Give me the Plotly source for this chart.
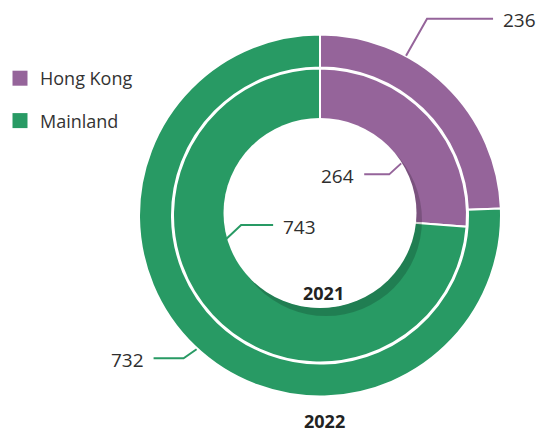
import math
import plotly.graph_objects as go

# ---- data ----
categories = ["Hong Kong", "Mainland"]
values_2021 = [264, 743]
values_2022 = [236, 732]
years = ["2021", "2022"]
colors = ["#95649a", "#289a64"]

# ---- geometry (pixels) ----
W, H = 543, 432
CX, CY = 320, 215.5
R_OUT = 181
R_MID = 147
R_IN = 95
FONT = "Open Sans"
TXT = "#2e2e2e"


def px(x):
    return x / W


def py(y):
    return 1 - y / H


def dom(r):
    return dict(x=[px(CX - r), px(CX + r)], y=[py(CY + r), py(CY - r)])


fig = go.Figure()

fig.add_trace(go.Pie(
    labels=categories, values=values_2022, domain=dom(R_OUT),
    hole=(R_MID + 1) / R_OUT, sort=False, direction="clockwise", rotation=0,
    marker=dict(colors=colors, line=dict(color="white", width=2)),
    textinfo="none", hoverinfo="label+value", showlegend=False,
))
fig.add_trace(go.Pie(
    labels=categories, values=values_2021, domain=dom(R_MID),
    hole=0.62, sort=False, direction="clockwise", rotation=0,
    marker=dict(colors=colors, line=dict(color="white", width=2)),
    textinfo="none", hoverinfo="label+value", showlegend=False,
))

# legend entries
for i, (name, c) in enumerate(zip(categories, colors)):
    fig.add_trace(go.Scatter(
        x=[None], y=[None], mode="markers", name=name, legendgroup=name,
        marker=dict(symbol="square", size=15, color=c),
    ))

shapes = []
# hole shadow + white hole
sx, sy, sr = CX + 6, CY + 4.5, 96
shapes.append(dict(type="circle", xref="paper", yref="paper", layer="above",
                   x0=px(sx - sr), x1=px(sx + sr), y0=py(sy + sr), y1=py(sy - sr),
                   fillcolor="rgba(0,0,0,0.18)", line=dict(width=0)))
hx, hy = CX, CY - 2.5
shapes.append(dict(type="circle", xref="paper", yref="paper", layer="above",
                   x0=px(hx - R_IN - 1.5), x1=px(hx + R_IN + 1.5),
                   y0=py(hy + R_IN), y1=py(hy - R_IN),
                   fillcolor="white", line=dict(width=0)))

annotations = []
# leader label styles: (value, color index, anchor angle, anchor radius, elbow dx, elbow dy, end dx, side)
labels = [
    (values_2022[0], 0, 28.3, 181.5, 21, -37, 66, "left"),
    (values_2021[0], 0, 57.3, 96.5, -12, 11, -25, "right"),
    (values_2021[1], 1, 255.5, 98, 16, -15, 32, "left"),
    (values_2022[1], 1, 222.7, 182, -13, 9, -30, "right"),
]
for val, ci, ang, rad, edx, edy, endx, side in labels:
    a = math.radians(ang)
    x0 = CX + rad * math.sin(a)
    y0 = CY - rad * math.cos(a)
    x1, y1 = x0 + edx, y0 + edy
    x2 = x1 + endx
    shapes.append(dict(type="path", xref="paper", yref="paper", layer="above",
                       path=f"M {px(x0)} {py(y0)} L {px(x1)} {py(y1)} L {px(x2)} {py(y1)}",
                       line=dict(color=colors[ci], width=2)))
    gap = 8
    annotations.append(dict(
        x=px(x2 + gap if side == "left" else x2 - gap), y=py(y1 + 1.5),
        xref="paper", yref="paper", xanchor=side, yanchor="middle",
        text=str(val), showarrow=False, font=dict(family=FONT, size=19, color=TXT)))

# year labels
annotations.append(dict(x=px(323), y=py(292.5), xref="paper", yref="paper",
                        xanchor="center", yanchor="middle",
                        text=f"<b>{years[0]}</b>", showarrow=False,
                        font=dict(family=FONT, size=18, color="#222")))
annotations.append(dict(x=px(324), y=py(420.5), xref="paper", yref="paper",
                        xanchor="center", yanchor="middle",
                        text=f"<b>{years[1]}</b>", showarrow=False,
                        font=dict(family=FONT, size=18, color="#222")))

fig.update_layout(
    width=W, height=H, margin=dict(l=0, r=0, t=0, b=0),
    paper_bgcolor="white", plot_bgcolor="white",
    xaxis=dict(visible=False), yaxis=dict(visible=False),
    shapes=shapes, annotations=annotations,
    legend=dict(x=0, y=py(60), xanchor="left", yanchor="top",
                font=dict(family=FONT, size=18, color="#333"),
                tracegroupgap=16, traceorder="grouped",
                bgcolor="rgba(0,0,0,0)"),
    showlegend=True,
)

fig.write_html("out.html", config={"displayModeBar": False},
               post_script="document.body.style.margin='0';document.body.style.overflow='hidden';")
